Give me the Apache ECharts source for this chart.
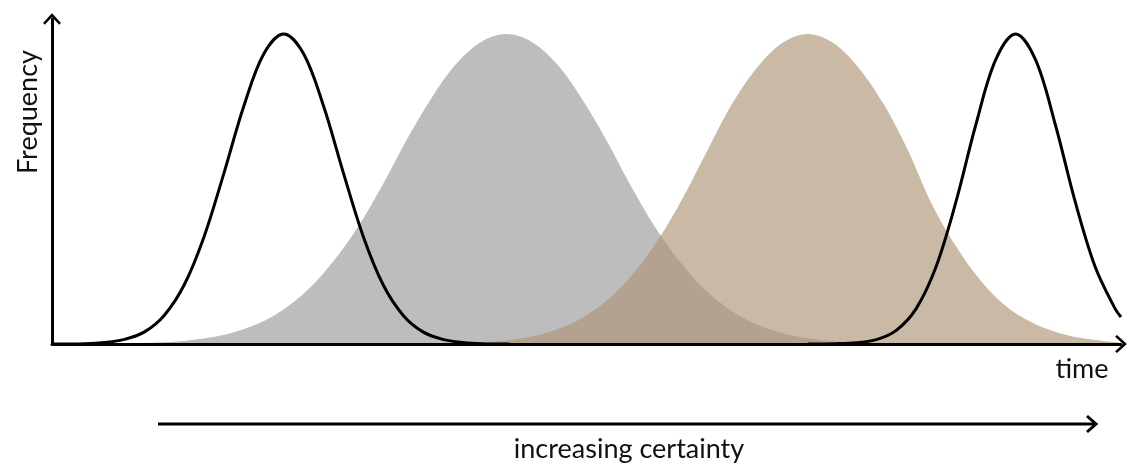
<!DOCTYPE html>
<html>
<head>
<meta charset="utf-8">
<script src="https://cdn.jsdelivr.net/npm/echarts@6/dist/echarts.min.js"></script>
<style>
html,body{margin:0;padding:0;background:#fff;}
#chart{width:1128px;height:464px;}
</style>
</head>
<body>
<div id="chart"></div>
<script>
// time (arbitrary units) / relative frequency (% of peak)
const narrowEarly = [[0,0],[33,0.1],[53,0.5],[73,1.5],[93,3.9],[113,9.3],[133,19.1],[153,34.7],[173,55.2],[193,76.8],[213,93.6],[233,100],[253,93.6],[273,76.8],[293,55.2],[313,34.7],[333,19.1],[353,9.3],[373,3.9],[393,1.5],[413,0.5],[433,0.1],[460,0]];
const wideGrey = [[40,0],[57,0.1],[82,0.2],[107,0.5],[132,1.0],[157,2.0],[182,3.7],[207,6.5],[232,11.0],[257,17.4],[282,26.3],[307,37.4],[332,51],[357,66],[382,79.5],[407,90.5],[432,97.5],[457,100],[482,97.5],[507,90.5],[532,79.5],[557,66],[582,51],[607,37.4],[632,26.3],[657,17.4],[682,11.0],[707,6.5],[732,3.7],[757,2.0],[782,1.0],[807,0.5],[832,0.2],[857,0.1],[880,0]];
const wideTan = [[360,0],[385,0.1],[410,0.3],[435,0.6],[460,1.3],[485,2.6],[510,5.0],[535,8.8],[560,14.6],[585,22.9],[610,33.9],[635,47.5],[660,63],[685,78],[710,89.5],[735,97.2],[760,100],[785,97.2],[810,89.5],[835,78],[860,63],[885,45],[910,31],[935,20],[960,12],[985,7],[1010,3.8],[1035,1.9],[1060,0.9],[1075,0.5]];
const narrowLate = [[760,0],[789,0.1],[809,0.4],[829,1.4],[849,4.4],[869,11.4],[889,24.9],[909,45.8],[929,70.7],[949,91.7],[969,100],[989,91.7],[1009,70.7],[1029,45.8],[1049,24.9],[1069,11.4],[1075,8.7]];

const xName = 'time';
const yName = 'Frequency';
const bottomLabel = 'increasing certainty';

const FONT = 'Lato, "Open Sans", sans-serif';
const chevron = 'path://M10,0 L20,11 L18,13 L10,4.2 L2,13 L0,11 Z';

const chart = echarts.init(document.getElementById('chart'), null, {renderer:'canvas'});
const lineBase = {type:'line', showSymbol:false, smooth:0.35, silent:true};
chart.setOption({
  animation:false,
  backgroundColor:'#ffffff',
  grid:{left:52, right:7, top:19, bottom:120},
  xAxis:{
    type:'value', min:0, max:1075, z:10,
    axisLine:{show:true, symbol:['none', chevron], symbolSize:[18,12], lineStyle:{color:'#000', width:3}},
    axisTick:{show:false}, axisLabel:{show:false}, splitLine:{show:false}
  },
  yAxis:{
    type:'value', min:0, max:104.8, z:10,
    axisLine:{show:true, symbol:['none', chevron], symbolSize:[18,12], lineStyle:{color:'#000', width:3}},
    axisTick:{show:false}, axisLabel:{show:false}, splitLine:{show:false}
  },
  series:[
    Object.assign({}, lineBase, {name:'grey', data:wideGrey, lineStyle:{width:0, opacity:0}, areaStyle:{color:'#bdbdbd', opacity:1}, z:2}),
    Object.assign({}, lineBase, {name:'tan', data:wideTan, lineStyle:{width:0, opacity:0}, areaStyle:{color:'rgb(172,147,117)', opacity:0.65}, z:3}),
    Object.assign({}, lineBase, {name:'early', data:narrowEarly, lineStyle:{color:'#000', width:3}, z:4}),
    Object.assign({}, lineBase, {name:'late', data:narrowLate, lineStyle:{color:'#000', width:3}, z:4})
  ],
  graphic:[
    {type:'text', x:15, y:174, rotation:Math.PI/2, style:{text:yName, font:'27px '+FONT, fill:'#111'}, z:20},
    {type:'text', x:1082, y:369, style:{text:xName, font:'27px '+FONT, fill:'#111', align:'center', verticalAlign:'middle'}, z:20},
    {type:'line', shape:{x1:158, y1:424, x2:1095, y2:424}, style:{stroke:'#000', lineWidth:3}, z:20},
    {type:'polyline', shape:{points:[[1087,416],[1096,424],[1087,432]]}, style:{stroke:'#000', lineWidth:3, fill:null}, z:20},
    {type:'text', x:629, y:449, style:{text:bottomLabel, font:'27px '+FONT, fill:'#111', align:'center', verticalAlign:'middle'}, z:20}
  ]
});
</script>
</body>
</html>
